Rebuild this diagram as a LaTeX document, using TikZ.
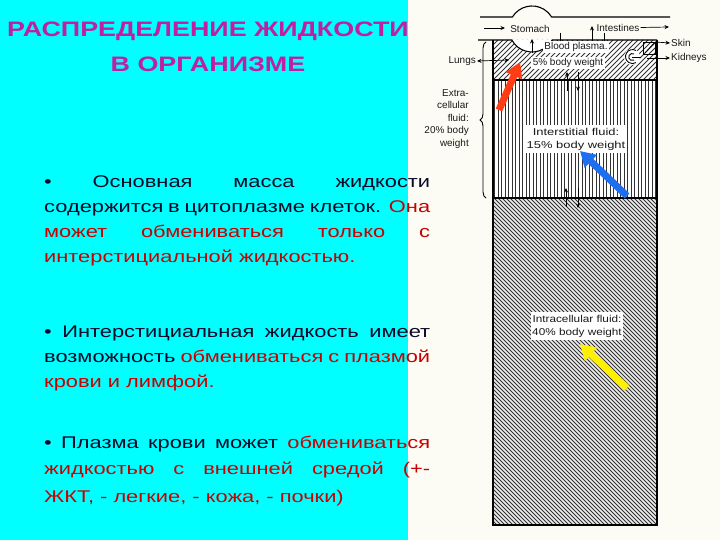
\documentclass[tikz,border=0pt]{standalone}
\usepackage{fontspec}
\setmainfont{Liberation Sans}
\usepackage{graphicx}
\usetikzlibrary{arrows.meta,decorations.pathreplacing}
\definecolor{cy}{RGB}{0,255,255}
\definecolor{paper}{RGB}{253,252,244}
\definecolor{ttl}{RGB}{192,32,160}
\definecolor{ink}{RGB}{10,10,40}
\definecolor{rd}{RGB}{200,0,0}
\definecolor{redarr}{RGB}{255,60,20}
\definecolor{bluearr}{RGB}{30,110,240}
\definecolor{yelarr}{RGB}{255,240,0}
\newcommand\jline[1]{\scalebox{1.29}[1]{\makebox[299.2bp][s]{#1}}}
\newcommand\lline[1]{\scalebox{1.29}[1]{#1}}
\newcommand\twolines[2]{\begin{tabular}{@{}c@{}}#1\\#2\end{tabular}}
\tikzset{
  titletext/.style={anchor=base, text=ttl, font=\fontsize{21}{25}\selectfont\bfseries, inner sep=0},
  bodytext/.style={anchor=base west, font=\fontsize{17}{20}\selectfont, inner sep=0},
  lbl/.style={font=\fontsize{10}{12}\selectfont, inner sep=1bp, text=black!90},
  lblw/.style={lbl, fill=white, inner sep=1.5bp},
  hatch/.style={line width=0.9bp, black!80},
  smallarr/.style={line width=0.7bp, -{Stealth[length=4.5bp,width=4bp]}},
  outline/.style={line width=1.1bp, black},
  bigarr/.style={line width=7bp, -{Triangle[width=17bp,length=15bp]}}
}
\begin{document}
\begin{tikzpicture}[x=1bp,y=-1bp]
\useasboundingbox (0,0) rectangle (720,540);
\fill[paper] (0,0) rectangle (720,540);
\fill[cy] (0,0) rectangle (408,540);

% title
\node[titletext] (t1) at (208,37) {\scalebox{1.285}[1]{РАСПРЕДЕЛЕНИЕ ЖИДКОСТИ}};
\node[titletext] (t2) at (208,72) {\scalebox{1.285}[1]{В ОРГАНИЗМЕ}};

% paragraph 1
\node[bodytext] (p11) at (44,188) {\jline{\color{ink}• Основная масса жидкости}};
\node[bodytext] (p12) at (44,213) {\jline{\color{ink}содержится в цитоплазме клеток. {\color{rd}Она}}};
\node[bodytext] (p13) at (44,238) {\jline{\color{rd}может обмениваться только с}};
\node[bodytext] (p14) at (44,263) {\lline{\color{rd}интерстициальной жидкостью.}};
% paragraph 2
\node[bodytext] (p21) at (44,337) {\jline{\color{ink}• Интерстициальная жидкость имеет}};
\node[bodytext] (p22) at (44,362) {\jline{\color{ink}возможность {\color{rd}обмениваться с плазмой}}};
\node[bodytext] (p23) at (44,387) {\lline{\color{rd}крови и лимфой.}};
% paragraph 3
\node[bodytext] (p31) at (44,448) {\jline{\color{ink}• Плазма крови может {\color{rd}обмениваться}}};
\node[bodytext] (p32) at (44,474) {\jline{\color{rd}жидкостью с внешней средой (+-}};
\node[bodytext] (p33) at (44,502) {\lline{\color{rd}ЖКТ, - легкие, - кожа, - почки)}};

% ---------- diagram ----------
% blood plasma
\fill[white] (493,40) rectangle (657,80);
\begin{scope}
\clip (493,40) rectangle (657,80);
\foreach \i in {0,...,42} \draw[hatch] ({453+5*\i},80) -- ({493+5*\i},40);
\end{scope}
% interstitial
\fill[white] (493,80) rectangle (657,198);
\foreach \i in {0,...,46} \draw[hatch] ({494.5+3.5*\i},80) -- ({494.5+3.5*\i},198);
% intracellular
\fill[black!8] (493,198) rectangle (657,525);
\begin{scope}
\clip (493,198) rectangle (657,525);
\foreach \i in {0,...,123} \draw[hatch] ({166+4*\i},198) -- ({493+4*\i},525);
\end{scope}

% stomach bulge interior
\fill[white] (511.8,40) arc[start angle=151.4,end angle=28.6,radius=23] -- cycle;

% outlines
\draw[outline] (480,17) -- (512.4,17) arc[start angle=211.4,end angle=328.6,radius=23] -- (670,17);
\draw[outline] (478,40) -- (511.8,40) arc[start angle=151.4,end angle=28.6,radius=23] -- (657,40);
\draw[outline] (493,40) -- (493,525) -- (657,525) -- (657,40);
\draw[outline] (493,80) -- (657,80);
\draw[outline] (493,198) -- (657,198);

% tube labels and arrows
\node[lbl] (stom) at (530,28.5) {Stomach};
\node[lbl] (inte) at (618,27.5) {Intestines};
\coordinate (s0) at (484,28);
\coordinate (s1) at (505,28);
\draw[smallarr] (s0) -- (s1);
\coordinate (i1) at (669,27);
\draw[smallarr] (inte.east) -- (i1);

\coordinate (v1a) at (532,53); \coordinate (v1b) at (532,39);
\coordinate (v2a) at (560,33); \coordinate (v2b) at (560,48);
\coordinate (v3a) at (592,46); \coordinate (v3b) at (592,26);
\coordinate (v4a) at (604,33); \coordinate (v4b) at (604,47);
\draw[smallarr] (v1a) -- (v1b);
\draw[smallarr] (v2a) -- (v2b);
\draw[smallarr] (v3a) -- (v3b);
\draw[smallarr] (v4a) -- (v4b);

% blood plasma label
\node[lblw] (bp1) at (576,47) {Blood plasma.};
\node[lblw] (bp2) at (568,63) {5\% body weight};

% lungs
\node[lbl, anchor=east] (lungs) at (477,61) {Lungs};
\coordinate (l1) at (509,60);
\draw[line width=0.7bp, {Stealth[length=4.5bp,width=4bp]}-{Stealth[length=4.5bp,width=4bp]}] (lungs.east) -- (l1);

% skin / kidneys
\draw[line width=0.9bp] (643,42) rectangle (655,54);
\draw[line width=0.7bp] (645,53) -- (654,43);
\coordinate (sk0) at (655,42);
\coordinate (kd0) at (647,58);
\node[lbl, anchor=west] (skin) at (670,43) {Skin};
\node[lbl, anchor=west] (kid) at (670,58) {Kidneys};
\draw[smallarr] (sk0) -- (skin.west);
\draw[smallarr] (kd0) -- (kid.west);
% glomerulus
\fill[white] (632,57) circle[radius=8];
\draw[line width=0.9bp] (636,50.5) arc[start angle=-60,end angle=-300,radius=7];
\draw[line width=0.9bp] (634,54) arc[start angle=-60,end angle=-300,radius=3.5];
\draw[line width=0.7bp] (632,57.5) -- (641,57.5);

% exchange arrows
\coordinate (e1a) at (567,91); \coordinate (e1b) at (567,72);
\coordinate (e2a) at (578,72); \coordinate (e2b) at (578,91);
\coordinate (e3a) at (566,207); \coordinate (e3b) at (566,188);
\coordinate (e4a) at (578,188); \coordinate (e4b) at (578,208);
\draw[smallarr] (e1a) -- (e1b);
\draw[smallarr] (e2a) -- (e2b);
\draw[smallarr] (e3a) -- (e3b);
\draw[smallarr] (e4a) -- (e4b);

% brace and extracellular label
\coordinate (br0) at (486,198);
\coordinate (br1) at (486,42);
\draw[line width=0.9bp, decorate, decoration={brace, amplitude=6bp}] (br0) -- (br1);
\node[lbl, anchor=north east, align=right, font=\fontsize{10}{12.6}\selectfont] (ecf) at (470,88) {Extra-\\cellular\\fluid:\\20\% body\\weight};

% interstitial and intracellular labels
\node[lblw, font=\fontsize{10}{13}\selectfont] (isf) at (576,139) {\scalebox{1.3}[1]{\twolines{Interstitial fluid:}{15\% body weight}}};
\node[lblw, font=\fontsize{10}{13}\selectfont] (icf) at (577,326) {\scalebox{1.18}[1]{\twolines{Intracellular fluid:}{40\% body weight}}};

% coloured arrows
\coordinate (ra0) at (499,110); \coordinate (ra1) at (520,62);
\coordinate (ba0) at (627,196); \coordinate (ba1) at (580,151);
\coordinate (ya0) at (627,388); \coordinate (ya1) at (580,344);
\draw[bigarr, redarr] (ra0) -- (ra1);
\draw[bigarr, bluearr] (ba0) -- (ba1);
\draw[bigarr, yelarr] (ya0) -- (ya1);
\end{tikzpicture}
\end{document}
